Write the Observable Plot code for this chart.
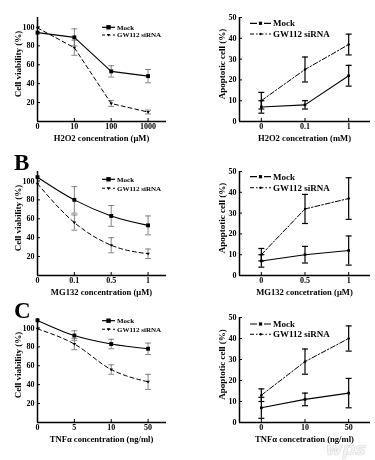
<!DOCTYPE html>
<html><head><meta charset="utf-8">
<script src="https://cdn.jsdelivr.net/npm/d3@7"></script>
<script src="https://cdn.jsdelivr.net/npm/@observablehq/plot@0.6"></script>
<style>
body{margin:0;background:#fff;}
#fig{position:relative;width:375px;height:460px;overflow:hidden;font-family:"Liberation Serif","Times New Roman",serif;}
#fig > svg{position:absolute;overflow:visible;will-change:transform;}
</style></head><body><div id="fig"></div>
<script>
// ---------- data ----------
const seriesNames = ["Mock", "GW112 siRNA"];

// Row A
const aLeftCats = ["0", "10", "100", "1000"];
const aLeftMock = [94, 89, 53, 48];
const aLeftMockErr = [0, 9, 6, 7];
const aLeftSi = [99, 78, 19, 10];
const aLeftSiErr = [0, 8, 3, 2];
const aRightCats = ["0", "0.1", "1"];
const aRightMock = [7, 8, 22];
const aRightMockErr = [3, 2, 5];
const aRightSi = [10, 25, 37];
const aRightSiErr = [4, 6, 5];

// Row B
const bLeftCats = ["0", "0.1", "0.5", "1"];
const bLeftMock = [104, 80, 63, 53];
const bLeftMockErr = [0, 14, 11, 10];
const bLeftSi = [97, 56, 32, 23];
const bLeftSiErr = [0, 8, 8, 5];
const bRightCats = ["0", "0.5", "1"];
const bRightMock = [7, 10, 12];
const bRightMockErr = [3, 4, 7];
const bRightSi = [10, 32, 37];
const bRightSiErr = [3, 7, 10];

// Row C
const cLeftCats = ["0", "5", "10", "50"];
const cLeftMock = [108, 92, 83, 78];
const cLeftMockErr = [0, 5, 5, 6];
const cLeftSi = [99, 83, 56, 43];
const cLeftSiErr = [0, 6, 5, 8];
const cRightCats = ["0", "10", "50"];
const cRightMock = [7, 11, 14];
const cRightMockErr = [5, 3, 7];
const cRightSi = [13, 29, 40];
const cRightSiErr = [3, 6, 6];

const leftYTicks = [20, 40, 60, 80, 100];
const rightYTicks = [0, 10, 20, 30, 40, 50];
const leftYTitle = "Cell viability (%)";
const rightYTitle = "Apoptotic cell (%)";
const xTitles = {
  aL: "H2O2 concentration (\u03bcM)", aR: "H2O2 concetration (mM)",
  bL: "MG132 concentration (\u03bcM)", bR: "MG132 concetration (\u03bcM)",
  cL: "TNF\u03b1 concentration (ng/ml)", cR: "TNF\u03b1 concetration (ng/ml)"
};
const panelLetters = ["B", "C"];

// ---------- helpers ----------
const FONT = "Liberation Serif, Times New Roman, serif";
const hcap = {draw(ctx, size) { const r = Math.sqrt(size / Math.PI); ctx.moveTo(-r, 0); ctx.lineTo(r, 0); }};
const triDown = {draw(ctx, size) { const r = Math.sqrt(size / Math.PI); ctx.moveTo(-r, -r * 0.6); ctx.lineTo(r, -r * 0.6); ctx.lineTo(0, r * 0.9); ctx.closePath(); }};

function rows(vals, errs, name) {
  return vals.map((v, i) => ({x: i, y: v, err: errs[i], lo: v - errs[i], hi: v + errs[i], s: name}));
}

function panel(opts) {
  const {cats, mock, mockErr, si, siErr, side, mt, mb, curve} = opts;
  const left = side === "L";
  const m = rows(mock, mockErr, seriesNames[0]);
  const s = rows(si, siErr, seriesNames[1]);
  const errRows = m.concat(s).filter(d => d.err > 0);
  const xDomain = left ? [0, cats.length - 0.5] : [-0.5, cats.length - 0.5];
  const yDomain = left ? [0, 110] : [0, 50];
  const errColor = left ? "#666" : "#000";
  const errW = left ? 0.8 : 1.2;
  const svg = Plot.plot({
    width: left ? 190 : 185,
    height: 150,
    marginLeft: left ? 37 : 49,
    marginRight: left ? 24 : 5,
    marginTop: mt,
    marginBottom: mb,
    style: {fontFamily: FONT, fontSize: "8px", fontWeight: "bold", background: "transparent", overflow: "visible", color: "#000"},
    x: {domain: xDomain},
    y: {domain: yDomain},
    marks: [
      Plot.ruleX(errRows, {x: "x", y1: "lo", y2: "hi", stroke: errColor, strokeWidth: errW}),
      Plot.dot(errRows, {x: "x", y: "hi", symbol: hcap, r: 3, stroke: errColor, strokeWidth: errW, fill: "none"}),
      Plot.dot(errRows, {x: "x", y: "lo", symbol: hcap, r: 3, stroke: errColor, strokeWidth: errW, fill: "none"}),
      Plot.line(m, {x: "x", y: "y", curve, stroke: "#000", strokeWidth: 1.1}),
      Plot.line(s, {x: "x", y: "y", curve, stroke: "#000", strokeWidth: 1.0, strokeDasharray: left ? "4,3" : "5,2,1.5,2"}),
      Plot.dot(m, {x: "x", y: "y", symbol: "square", r: left ? 2.2 : 1.5, fill: "#000"}),
      left
        ? Plot.dot(s, {x: "x", y: "y", symbol: triDown, r: 1.8, fill: "#000"})
        : Plot.dot(s, {x: "x", y: "y", r: 1.2, fill: "#000"}),
      Plot.ruleY([yDomain[0]], {stroke: "#000", strokeWidth: 1.5}),
      Plot.ruleX([xDomain[0]], {stroke: "#000", strokeWidth: 1.5}),
      Plot.axisX({ticks: d3.range(cats.length), tickFormat: i => cats[i], tickSize: -3, tickPadding: 5, label: null, fontSize: 8, fill: "#000"}),
      Plot.axisY({ticks: left ? leftYTicks : rightYTicks, tickSize: -3, tickPadding: 6, label: null, fontSize: 8, fill: "#000"})
    ]
  });
  return svg;
}

function titles(svg, sp, xTitle, yTitle) {
  const left = sp.side === "L";
  const W = left ? 190 : 185, ml = left ? 37 : 49, mr = left ? 24 : 5;
  const fx0 = ml, fx1 = W - mr, fy0 = sp.mt, fy1 = 150 - sp.mb;
  const g = d3.select(svg).append("g").attr("font-family", FONT).attr("font-weight", "bold")
    .attr("text-anchor", "middle").attr("fill", "#000");
  g.append("text").attr("x", (fx0 + fx1) / 2).attr("y", fy1 + 16.5).attr("dy", "0.35em")
    .attr("font-size", 8.6).text(xTitle);
  const cx = fx0 - (left ? 19 : 17.5), cy = (fy0 + fy1) / 2 - 5;
  g.append("text").attr("transform", `translate(${cx},${cy}) rotate(-90)`).attr("dy", "0.35em")
    .attr("font-size", 9).text(yTitle);
}

function legend(svg, side, yMock, ySi) {
  const left = side === "L";
  const g = d3.select(svg).append("g").attr("font-family", FONT).attr("font-weight", "bold").attr("text-anchor", "start");
  const x0 = left ? 102 : 60, x1 = left ? 115 : 81, tx = left ? 117 : 83;
  const fs = left ? 7 : 9;
  const xm = (x0 + x1) / 2;
  g.append("line").attr("x1", x0).attr("x2", x1).attr("y1", yMock).attr("y2", yMock)
    .attr("stroke", "#000").attr("stroke-width", 1.2)
    .attr("stroke-dasharray", left ? null : "7,2,3,2,7");
  const sq = left ? 2.2 : 1.6;
  g.append("rect").attr("x", xm - sq).attr("y", yMock - sq).attr("width", 2 * sq).attr("height", 2 * sq).attr("fill", "#000");
  g.append("text").attr("x", tx).attr("y", yMock).attr("dy", "0.35em").attr("font-size", fs).text(seriesNames[0]);
  g.append("line").attr("x1", x0).attr("x2", x1).attr("y1", ySi).attr("y2", ySi)
    .attr("stroke", "#000").attr("stroke-width", 1.1)
    .attr("stroke-dasharray", left ? "3,2.5" : "4,2,1.5,2");
  if (left) {
    g.append("path").attr("d", `M${xm - 1.8},${ySi - 1.1}L${xm + 1.8},${ySi - 1.1}L${xm},${ySi + 1.6}Z`).attr("fill", "#000");
  } else {
    g.append("circle").attr("cx", xm).attr("cy", ySi).attr("r", 1.2).attr("fill", "#000");
  }
  g.append("text").attr("x", tx).attr("y", ySi).attr("dy", "0.35em").attr("font-size", fs).text(seriesNames[1]);
}

const fig = document.getElementById("fig");
const specs = [
  {key: "aL", top: 0, cats: aLeftCats, mock: aLeftMock, mockErr: aLeftMockErr, si: aLeftSi, siErr: aLeftSiErr, side: "L", mt: 17, mb: 29, curve: "linear", lg: [27.3, 35]},
  {key: "aR", top: 0, cats: aRightCats, mock: aRightMock, mockErr: aRightMockErr, si: aRightSi, siErr: aRightSiErr, side: "R", mt: 17, mb: 29, curve: "linear", lg: [23.3, 34]},
  {key: "bL", top: 150, cats: bLeftCats, mock: bLeftMock, mockErr: bLeftMockErr, si: bLeftSi, siErr: bLeftSiErr, side: "L", mt: 21, mb: 25, curve: "monotone-x", lg: [29.3, 38.3]},
  {key: "bR", top: 150, cats: bRightCats, mock: bRightMock, mockErr: bRightMockErr, si: bRightSi, siErr: bRightSiErr, side: "R", mt: 21, mb: 25, curve: "linear", lg: [26.7, 37.7]},
  {key: "cL", top: 300, cats: cLeftCats, mock: cLeftMock, mockErr: cLeftMockErr, si: cLeftSi, siErr: cLeftSiErr, side: "L", mt: 18, mb: 28, curve: "monotone-x", lg: [20.7, 29.3]},
  {key: "cR", top: 300, cats: cRightCats, mock: cRightMock, mockErr: cRightMockErr, si: cRightSi, siErr: cRightSiErr, side: "R", mt: 17, mb: 28, curve: "linear", lg: [24, 34.3]}
];
for (const sp of specs) {
  const svg = panel(sp);
  titles(svg, sp, xTitles[sp.key], sp.side === "L" ? leftYTitle : rightYTitle);
  legend(svg, sp.side, sp.lg[0], sp.lg[1]);
  svg.style.left = (sp.side === "L" ? 0 : 190) + "px";
  svg.style.top = sp.top + "px";
  svg.style.position = "absolute";
  fig.appendChild(svg);
}

// panel letters and watermark
const over = d3.select(fig).append("svg").attr("width", 375).attr("height", 460)
  .style("left", "0px").style("top", "0px").style("pointer-events", "none");
over.selectAll("text.letter").data(panelLetters).join("text")
  .attr("class", "letter")
  .attr("x", 14).attr("y", (d, i) => i === 0 ? 170 : 318)
  .attr("font-family", FONT).attr("font-weight", "bold").attr("font-size", 23).text(d => d);
over.append("text").attr("x", 366).attr("y", 455).attr("text-anchor", "end")
  .attr("font-family", "DejaVu Sans, sans-serif").attr("font-style", "italic").attr("font-weight", "bold")
  .attr("font-size", 18).attr("fill", "#f5f5f5").attr("stroke", "#dedede").attr("stroke-width", 0.7).text("wps");
</script></body></html>
